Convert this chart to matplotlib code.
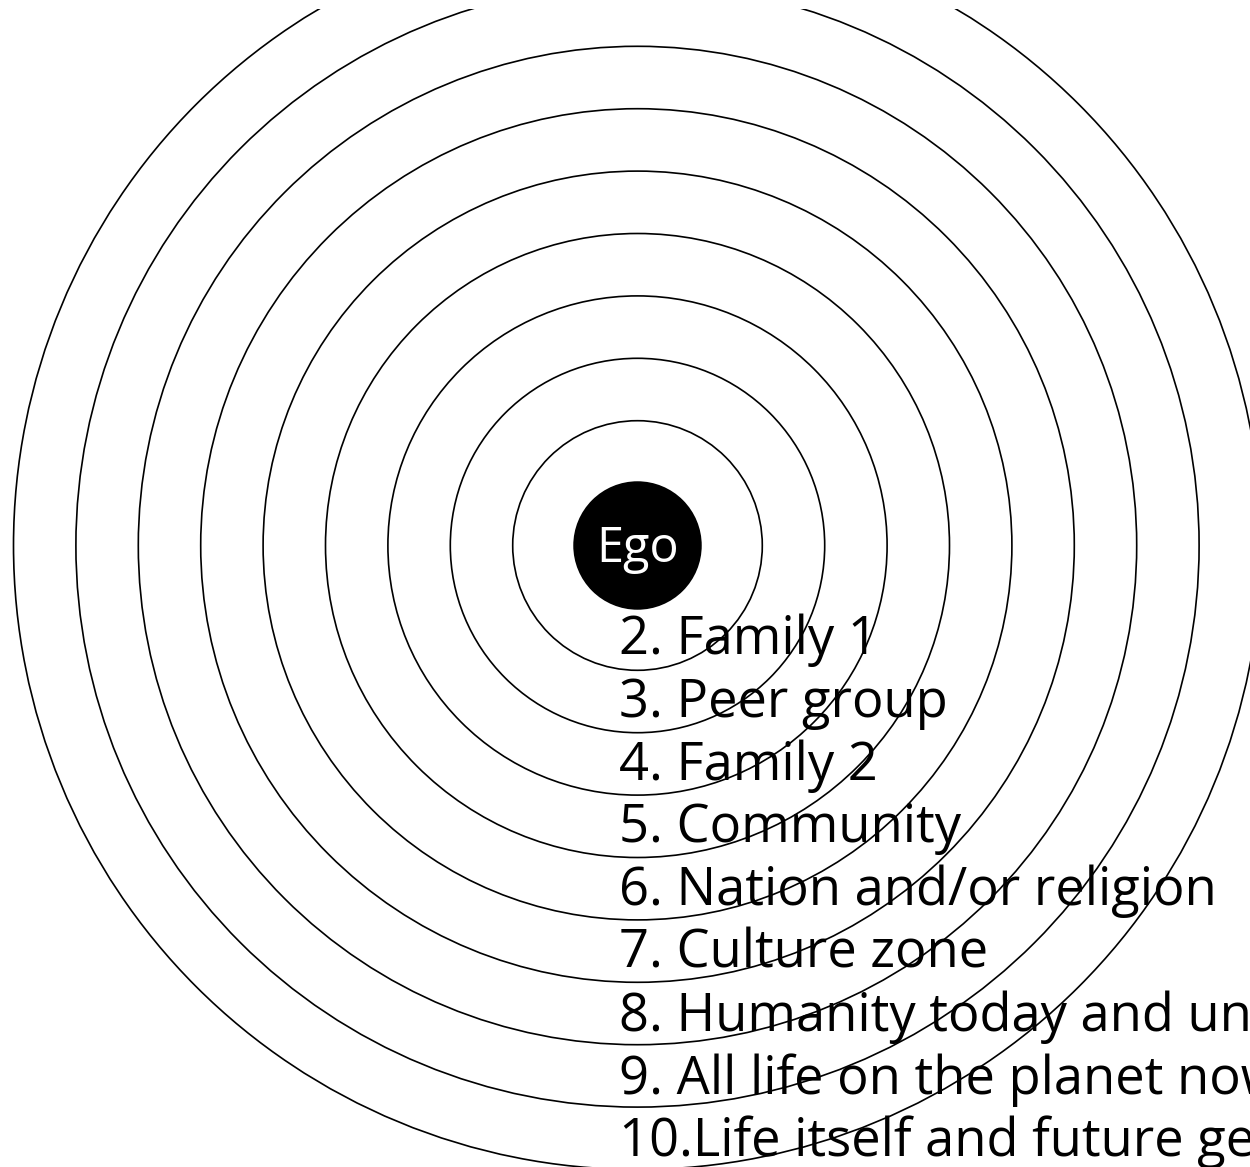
import matplotlib
matplotlib.use('Agg')
import matplotlib.pyplot as plt
from matplotlib.patches import Circle

# rings of identification, ring 1 is the ego
ring_ids = [1, 2, 3, 4, 5, 6, 7, 8, 9, 10]
center_label = 'Ego'
ring_labels = [
    '2. Family 1',
    '3. Peer group',
    '4. Family 2',
    '5. Community',
    '6. Nation and/or religion',
    '7. Culture zone',
    '8. Humanity today and universal values',
    '9. All life on the planet now',
    '10.Life itself and future generations',
]

W, H = 1250, 1167
top_clip = 9
cx, cy = 637.5, 545.5
step = 62.4

plt.rcParams['font.family'] = ['Open Sans', 'DejaVu Sans']

fig = plt.figure(figsize=(W / 100, H / 100), dpi=100)
ax = fig.add_axes([0, 0, 1, (H - top_clip) / H])
ax.set_xlim(0, W)
ax.set_ylim(H, top_clip)
ax.set_aspect('auto')
ax.axis('off')

for r in ring_ids:
    if r == 1:
        ax.add_patch(Circle((cx, cy), r * step + 1, facecolor='black',
                            edgecolor='black', lw=1.2, zorder=3))
    else:
        ax.add_patch(Circle((cx, cy), r * step, facecolor='none',
                            edgecolor='black', lw=1.2, zorder=2))

ax.text(cx, cy + 17, center_label, color='white', fontsize=35,
        ha='center', va='baseline', zorder=4)

for i, lab in enumerate(ring_labels):
    ax.text(619, 654 + i * 62.8, lab, color='black', fontsize=37.8,
            ha='left', va='baseline', zorder=1)

fig.savefig('out.png', dpi=100)
